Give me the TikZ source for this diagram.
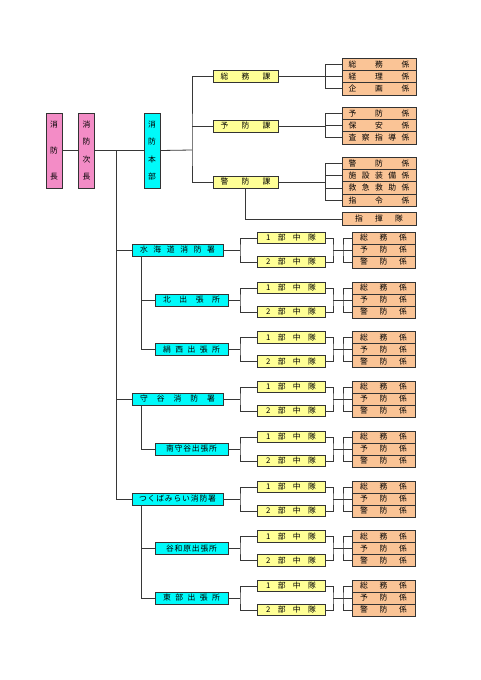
\documentclass[tikz,border=0pt]{standalone}
\usepackage{fontspec}
\setmainfont{Noto Sans CJK JP}
\definecolor{pinkc}{RGB}{243,140,198}
\definecolor{cyanc}{RGB}{0,250,250}
\definecolor{yelc}{RGB}{255,255,150}
\definecolor{orc}{RGB}{250,196,150}
\definecolor{linec}{RGB}{55,55,55}
\newcommand\spr[2]{\makebox[#1]{#2}}
\newcommand\vspr[2]{\parbox[c][#1][s]{10pt}{\centering #2}}
\tikzset{
  bx/.style={draw=black!80, line width=0.8pt, inner sep=0pt, font=\fontsize{7.8}{8.5}\selectfont},
  vpink/.style={bx, fill=pinkc, minimum width=16pt, minimum height=75pt},
  vcyan/.style={bx, fill=cyanc, minimum width=16pt, minimum height=75pt},
  kabox/.style={bx, fill=yelc, minimum width=65pt, minimum height=12pt},
  kkbox/.style={bx, fill=orc, minimum width=74pt, minimum height=12.3pt},
  mainst/.style={bx, fill=cyanc, minimum width=91pt, minimum height=12pt},
  brst/.style={bx, fill=cyanc, minimum width=73pt, minimum height=12pt},
  chutai/.style={bx, fill=yelc, minimum width=68pt, minimum height=11.5pt},
  subk/.style={bx, fill=orc, minimum width=63pt, minimum height=12pt},
  conn/.style={draw=linec, line width=0.8pt},
}
\newcommand\grp[3]{%
  \node[chutai] (#1a) at (291,#2-12) {\spr{50pt}{1\hfill 部\hfill 中\hfill 隊}};
  \node[chutai] (#1b) at (291,#2+12) {\spr{50pt}{2\hfill 部\hfill 中\hfill 隊}};
  \node[subk] (#1x) at (383.5,#2-12) {\spr{47pt}{総\hfill 務\hfill 係}};
  \node[subk] (#1y) at (383.5,#2) {\spr{47pt}{予\hfill 防\hfill 係}};
  \node[subk] (#1z) at (383.5,#2+12) {\spr{47pt}{警\hfill 防\hfill 係}};
  \coordinate (#1j) at (240,#2);
  \coordinate (#1k) at (333,#2);
  \coordinate (#1m) at (343,#2);
  \draw[conn] (#3.east) -- (#1j);
  \draw[conn] (#1a.west) -| (#1j) |- (#1b.west);
  \draw[conn] (#1a.east) -| (#1k) |- (#1b.east);
  \draw[conn] (#1k) -- (#1y.west);
  \draw[conn] (#1x.west) -| (#1m) |- (#1z.west);
}
\begin{document}
\begin{tikzpicture}[x=1pt,y=-1pt]
\useasboundingbox (0,0) rectangle (480,680);
% top chain
\node[vpink] (chief) at (54,150.5) {\vspr{58pt}{消\par\vfill 防\par\vfill 長}};
\node[vpink] (vice) at (86.5,150.5) {\vspr{58pt}{消\par\vfill 防\par\vfill 次\par\vfill 長}};
\node[vcyan] (honbu) at (152,150.5) {\vspr{58pt}{消\par\vfill 防\par\vfill 本\par\vfill 部}};
\draw[conn] (chief.east) -- (vice.west);
\draw[conn] (vice.east) -- (honbu.west);
% ka
\node[kabox] (ka1) at (245.5,76.5) {\spr{50pt}{総\hfill 務\hfill 課}};
\node[kabox] (ka2) at (245.5,126) {\spr{50pt}{予\hfill 防\hfill 課}};
\node[kabox] (ka3) at (245.5,182) {\spr{50pt}{警\hfill 防\hfill 課}};
\coordinate (K) at (192,150);
\draw[conn] (honbu.east) -- (K);
\draw[conn] (ka1.west) -| (K) |- (ka3.west);
\draw[conn] (ka2.west) -- (ka2.west -| K);
% kakari
\node[kkbox] (k11) at (379,64.2) {\spr{61pt}{総\hfill 務\hfill 係}};
\node[kkbox] (k12) at (379,76.5) {\spr{61pt}{経\hfill 理\hfill 係}};
\node[kkbox] (k13) at (379,88.8) {\spr{61pt}{企\hfill 画\hfill 係}};
\node[kkbox] (k21) at (379,113.2) {\spr{61pt}{予\hfill 防\hfill 係}};
\node[kkbox] (k22) at (379,125.5) {\spr{61pt}{保\hfill 安\hfill 係}};
\node[kkbox] (k23) at (379,137.8) {\spr{61pt}{査\hfill 察\hfill 指\hfill 導\hfill 係}};
\node[kkbox] (k31) at (379,163.2) {\spr{61pt}{警\hfill 防\hfill 係}};
\node[kkbox] (k32) at (379,175.6) {\spr{61pt}{施\hfill 設\hfill 装\hfill 備\hfill 係}};
\node[kkbox] (k33) at (379,188) {\spr{61pt}{救\hfill 急\hfill 救\hfill 助\hfill 係}};
\node[kkbox] (k34) at (379,200.4) {\spr{61pt}{指\hfill 令\hfill 係}};
\node[kkbox] (shiki) at (379,219) {\spr{48pt}{指\hfill 揮\hfill 隊}};
\coordinate (R) at (325,0);
\draw[conn] (ka1.east) -- (ka1.east -| R);
\draw[conn] (k11.west) -| (k13.west -| R) -- (k13.west);
\draw[conn] (k12.west) -- (k12.west -| R);
\draw[conn] (ka2.east) -- (ka2.east -| R);
\draw[conn] (k21.west) -| (k23.west -| R) -- (k23.west);
\draw[conn] (k22.west) -- (k22.west -| R);
\draw[conn] (ka3.east) -- (ka3.east -| R);
\draw[conn] (k31.west) -| (k34.west -| R) -- (k34.west);
\draw[conn] (k32.west) -- (k32.west -| R);
\draw[conn] (k33.west) -- (k33.west -| R);
\draw[conn] (ka3.south) |- (shiki.west);
% stations
\node[mainst] (s1) at (177.5,250) {\spr{75pt}{水\hfill 海\hfill 道\hfill 消\hfill 防\hfill 署}};
\node[brst] (s2) at (191.5,300) {\spr{57pt}{北\hfill 出\hfill 張\hfill 所}};
\node[brst] (s3) at (191.5,349.5) {\spr{57pt}{絹\hfill 西\hfill 出\hfill 張\hfill 所}};
\node[mainst] (s4) at (177.5,399) {\spr{75pt}{守\hfill 谷\hfill 消\hfill 防\hfill 署}};
\node[brst] (s5) at (191.5,449) {\spr{51pt}{南\hfill 守\hfill 谷\hfill 出\hfill 張\hfill 所}};
\node[mainst] (s6) at (177.5,499) {\spr{77pt}{つ\hfill く\hfill ば\hfill み\hfill ら\hfill い\hfill 消\hfill 防\hfill 署}};
\node[brst] (s7) at (191.5,548.5) {\spr{51pt}{谷\hfill 和\hfill 原\hfill 出\hfill 張\hfill 所}};
\node[brst] (s8) at (191.5,598) {\spr{57pt}{東\hfill 部\hfill 出\hfill 張\hfill 所}};
\coordinate (J0) at (116,150);
\draw[conn] (J0) |- (s1.west);
\draw[conn] (J0) |- (s4.west);
\draw[conn] (J0) |- (s6.west);
\coordinate (bx) at (141,0);
\draw[conn] (s1.south -| bx) |- (s3.west);
\draw[conn] (s2.west) -- (s2.west -| bx);
\draw[conn] (s4.south -| bx) |- (s5.west);
\draw[conn] (s6.south -| bx) |- (s8.west);
\draw[conn] (s7.west) -- (s7.west -| bx);
% groups
\grp{g1}{250}{s1}
\grp{g2}{300}{s2}
\grp{g3}{349.5}{s3}
\grp{g4}{399}{s4}
\grp{g5}{449}{s5}
\grp{g6}{499}{s6}
\grp{g7}{548.5}{s7}
\grp{g8}{598}{s8}
\end{tikzpicture}
\end{document}
